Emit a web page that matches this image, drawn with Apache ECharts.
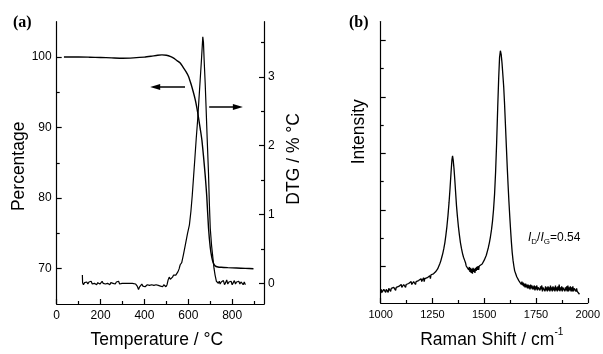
<!DOCTYPE html>
<html>
<head>
<meta charset="utf-8">
<script src="https://cdn.jsdelivr.net/npm/echarts@6/dist/echarts.min.js"></script>
<style>
html,body{margin:0;padding:0;background:#fff;}
#c{width:603px;height:354px;}
</style>
</head>
<body>
<div id="c"></div>
<script>
// ---------- Data ----------
// (a) TGA: temperature (°C), mass percentage
var tgaData = [[33,100.0],[60,100.0],[100,100.0],[150,99.97],[200,99.93],[250,99.88],[300,99.83],[350,99.88],[400,99.98],[430,100.1],[460,100.24],[480,100.3],[500,100.25],[520,100.05],[535,99.8],[550,99.45],[563,99.15],[575,98.6],[590,97.9],[601,97.25],[612,96.2],[623,95.0],[632,93.9],[639,92.8],[645,91.7],[651,90.5],[657,89.3],[662,88.2],[669,86.0],[677,83.2],[684,80.3],[692,75.8],[700,73.0],[707,71.6],[714,70.8],[722,70.4],[735,70.25],[750,70.2],[780,70.15],[820,70.1],[860,70.05],[897,70.0]];
// (a) DTG: temperature (°C), %/°C
var dtgData = [[117,0.12],[118,0.01],[122,-0.02],[127,0.01],[132,0.0],[137,0.02],[142,-0.01],[147,0.02],[152,0.0],[157,0.03],[162,-0.01],[167,0.01],[172,0.0],[177,0.02],[182,-0.02],[187,0.01],[192,0.02],[197,-0.01],[202,0.01],[207,0.03],[212,0.0],[217,0.02],[222,-0.01],[227,0.01],[232,0.0],[237,0.02],[242,-0.02],[247,0.01],[252,0.03],[257,0.0],[262,0.01],[267,-0.01],[272,0.02],[277,0.0],[282,0.03],[287,-0.01],[292,0.01],[298,0.0],[320,0.0],[345,0.0],[360,-0.01],[367,-0.04],[373,-0.09],[378,-0.05],[383,-0.03],[388,-0.01],[393,-0.04],[398,-0.02],[403,-0.05],[408,-0.03],[413,-0.02],[418,-0.04],[423,-0.03],[428,-0.05],[433,-0.02],[438,-0.04],[443,-0.03],[448,-0.05],[453,-0.02],[458,-0.04],[463,-0.03],[468,-0.02],[473,-0.04],[478,-0.03],[483,-0.05],[488,-0.02],[493,-0.03],[498,-0.05],[503,-0.02],[508,0.05],[513,0.09],[518,0.06],[523,0.04],[528,0.09],[533,0.12],[538,0.11],[543,0.12],[548,0.14],[553,0.17],[558,0.21],[563,0.27],[570,0.3],[578,0.42],[586,0.55],[596,0.72],[605,0.85],[612,1.05],[618,1.28],[624,1.55],[630,1.82],[636,2.1],[642,2.35],[648,2.65],[654,2.95],[660,3.25],[666,3.58],[669,3.5],[672,3.25],[677,2.9],[681,2.55],[686,2.1],[692,1.6],[696,1.15],[700,0.8],[706,0.55],[712,0.37],[717,0.22],[722,0.12],[728,0.03],[733,0.05],[737,0.0],[741,0.03],[745,-0.01],[750,0.02],[755,0.0],[760,0.04],[765,-0.02],[770,0.01],[775,0.05],[780,-0.01],[785,0.02],[790,0.0],[795,0.03],[800,-0.02],[805,0.01],[810,0.04],[815,-0.01],[820,0.02],[825,0.0],[830,0.03],[835,-0.01],[840,0.02],[845,0.01],[850,-0.02],[855,0.02],[860,-0.02]];
// (b) Raman: shift (cm-1), intensity (a.u.)
var ramanData = [[1000,10],[1003,14],[1006,11],[1009,13],[1012,10],[1015,14],[1018,12],[1021,15],[1024,11],[1027,14],[1030,12],[1033,15],[1036,11],[1039,15],[1042,13],[1045,16],[1048,12],[1051,15],[1054,13],[1057,17],[1060,13],[1063,16],[1066,14],[1069,17],[1072,13],[1075,16],[1078,15],[1081,18],[1084,14],[1087,17],[1090,15],[1093,18],[1096,15],[1099,19],[1102,16],[1105,18],[1108,15],[1111,19],[1114,17],[1117,20],[1120,16],[1123,19],[1126,17],[1129,21],[1132,17],[1135,20],[1138,18],[1141,21],[1144,18],[1147,22],[1150,19],[1153,21],[1156,18],[1159,22],[1162,20],[1165,23],[1168,19],[1171,22],[1174,20],[1177,24],[1180,20],[1183,23],[1186,21],[1189,24],[1192,21],[1195,25],[1198,22],[1201,24],[1204,22],[1207,26],[1210,22],[1213,25],[1216,23],[1219,27],[1222,23],[1225,26],[1228,24],[1231,27],[1234,25],[1237,28],[1240,25],[1243,29],[1246,27],[1250,28],[1255,30],[1260,29],[1265,32],[1270,33],[1275,35],[1280,37],[1285,40],[1290,43],[1295,47],[1300,51],[1305,56],[1310,62],[1315,70],[1320,79],[1325,90],[1330,103],[1335,118],[1340,135],[1344,147],[1347,151],[1350,147],[1354,138],[1358,126],[1362,113],[1366,100],[1370,90],[1375,79],[1380,70],[1385,62],[1390,56],[1395,51],[1400,47],[1405,44],[1410,41],[1413,38],[1416,40],[1419,36],[1422,38],[1425,34],[1428,37],[1431,32],[1434,36],[1437,31],[1440,35],[1443,30],[1446,36],[1449,32],[1452,35],[1455,31],[1458,36],[1461,33],[1464,37],[1467,34],[1470,38],[1473,34],[1476,38],[1479,36],[1482,40],[1485,38],[1490,40],[1495,42],[1500,44],[1505,46],[1510,49],[1515,53],[1520,57],[1525,62],[1530,68],[1535,75],[1540,84],[1545,96],[1550,112],[1555,135],[1560,165],[1565,200],[1570,232],[1574,252],[1578,259],[1582,255],[1586,246],[1590,234],[1594,222],[1598,205],[1602,185],[1607,160],[1611,140],[1615,122],[1619,105],[1623,90],[1627,76],[1631,63],[1635,52],[1639,44],[1643,38],[1647,33],[1652,30],[1657,27],[1662,25],[1667,23],[1670,25],[1673,21],[1676,23],[1679,19],[1682,22],[1685,18],[1688,21],[1691,17],[1694,20],[1697,16],[1700,20],[1703,16],[1706,19],[1709,15],[1712,19],[1715,15],[1718,18],[1721,14],[1724,19],[1727,15],[1730,18],[1733,14],[1736,17],[1739,14],[1742,18],[1745,13],[1748,17],[1751,14],[1754,18],[1757,13],[1760,16],[1763,14],[1766,18],[1769,13],[1772,17],[1775,14],[1778,18],[1781,12],[1784,16],[1787,14],[1790,17],[1793,12],[1796,17],[1799,13],[1802,16],[1805,12],[1808,17],[1811,13],[1814,16],[1817,12],[1820,18],[1823,13],[1826,16],[1829,12],[1832,17],[1835,13],[1838,16],[1841,12],[1844,18],[1847,13],[1850,16],[1853,12],[1856,17],[1859,13],[1862,19],[1865,12],[1868,16],[1871,13],[1874,17],[1877,12],[1880,16],[1883,14],[1886,18],[1889,12],[1892,16],[1895,13],[1898,17],[1901,12],[1904,18],[1907,12],[1910,16],[1913,13],[1916,17],[1919,12],[1922,16],[1925,12],[1928,17],[1931,12],[1934,15],[1937,13],[1940,16],[1943,12],[1946,15],[1949,12],[1952,14],[1955,11],[1958,12],[1960,9]];

// Tick values
var tempMajor = [0, 200, 400, 600, 800];
var tempMinor = [100, 300, 500, 700, 900];
var pctMajor = [70, 80, 90, 100];
var pctMinor = [75, 85, 95];
var dtgMajor = [0, 1, 2, 3];
var dtgMinor = [0.5, 1.5, 2.5, 3.5];
var shiftMajor = [1000, 1250, 1500, 1750, 2000];
var shiftMinor = [1125, 1375, 1625, 1875];
var intensityMajor = [37.6, 95.6, 153.6, 211.6, 269.6];
var intensityMinor = [66.6, 124.6, 182.6, 240.6];
// Annotation arrows (temperature, percentage)
var arrowLeft = [[585, 95.75], [449, 95.75]];
var arrowRight = [[695, 92.9], [826, 92.9]];

// ---------- Chart ----------
var FONT = 'Liberation Sans, Arial, Helvetica, sans-serif';
var BLACK = '#000';
var axisLine = { show: true, onZero: false, lineStyle: { color: BLACK, width: 1.2 } };
var noLine = { show: false, onZero: false };

function majorTick(vals) { return { show: true, inside: true, length: 5, customValues: vals, lineStyle: { color: BLACK, width: 1.2 } }; }
function minorTickAx(vals) { return { show: true, inside: true, length: 3, customValues: vals, lineStyle: { color: BLACK, width: 1.2 } }; }
function labels(vals, size, margin) {
  return { show: true, customValues: vals, color: BLACK, fontFamily: FONT, fontSize: size, margin: margin,
           formatter: function (v) { return String(v); } };
}
var nameStyle = { color: BLACK, fontFamily: FONT, fontSize: 17.5 };

var chart = echarts.init(document.getElementById('c'), null, { renderer: 'canvas' });
chart.setOption({
  animation: false,
  backgroundColor: '#fff',
  grid: [
    { left: 56.7, right: 339, top: 21.7, bottom: 43 },
    { left: 380.7, right: 14.7, top: 21.5, bottom: 43.7 }
  ],
  xAxis: [
    { type: 'value', gridIndex: 0, position: 'bottom', min: 0, max: 945,
      axisLine: axisLine, axisTick: majorTick(tempMajor), axisLabel: labels(tempMajor, 12, 6), splitLine: { show: false },
      name: 'Temperature / °C', nameLocation: 'middle', nameGap: 27,
      nameTextStyle: Object.assign({ padding: [0, 7, 0, 0] }, nameStyle) },
    { type: 'value', gridIndex: 0, position: 'bottom', min: 0, max: 945,
      axisLine: noLine, axisTick: minorTickAx(tempMinor), axisLabel: { show: false }, splitLine: { show: false } },
    { type: 'value', gridIndex: 1, position: 'bottom', min: 1000, max: 2000,
      axisLine: axisLine, axisTick: majorTick(shiftMajor), axisLabel: labels(shiftMajor, 11, 6), splitLine: { show: false },
      name: '{n|Raman Shift / cm}{s|-1}', nameLocation: 'middle', nameGap: 24,
      nameTextStyle: Object.assign({ padding: [0, 0, 0, 15],
        rich: { n: { fontFamily: FONT, fontSize: 17.5, color: BLACK, lineHeight: 22, verticalAlign: 'bottom' },
                s: { fontFamily: FONT, fontSize: 10, color: BLACK, lineHeight: 10, verticalAlign: 'top' } } }, nameStyle) },
    { type: 'value', gridIndex: 1, position: 'bottom', min: 1000, max: 2000,
      axisLine: noLine, axisTick: minorTickAx(shiftMinor), axisLabel: { show: false }, splitLine: { show: false } }
  ],
  yAxis: [
    { type: 'value', gridIndex: 0, position: 'left', min: 65, max: 105,
      axisLine: axisLine, axisTick: majorTick(pctMajor), axisLabel: labels(pctMajor, 12, 5), splitLine: { show: false },
      name: 'Percentage', nameLocation: 'middle', nameGap: 29,
      nameTextStyle: Object.assign({ padding: [0, 7, 0, 0] }, nameStyle) },
    { type: 'value', gridIndex: 0, position: 'left', min: 65, max: 105,
      axisLine: noLine, axisTick: minorTickAx(pctMinor), axisLabel: { show: false }, splitLine: { show: false } },
    { type: 'value', gridIndex: 0, position: 'right', min: -0.3, max: 3.8,
      axisLine: axisLine, axisTick: majorTick(dtgMajor), axisLabel: labels(dtgMajor, 12, 4), splitLine: { show: false },
      name: 'DTG / % °C', nameLocation: 'middle', nameGap: 21.5,
      nameTextStyle: Object.assign({ padding: [0, 0, 0, 8] }, nameStyle) },
    { type: 'value', gridIndex: 0, position: 'right', min: -0.3, max: 3.8,
      axisLine: noLine, axisTick: minorTickAx(dtgMinor), axisLabel: { show: false }, splitLine: { show: false } },
    { type: 'value', gridIndex: 1, position: 'left', min: 0, max: 289,
      axisLine: axisLine, axisTick: majorTick(intensityMajor), axisLabel: { show: false }, splitLine: { show: false },
      name: 'Intensity', nameLocation: 'middle', nameGap: 13,
      nameTextStyle: Object.assign({ padding: [0, 0, 0, 61] }, nameStyle) },
    { type: 'value', gridIndex: 1, position: 'left', min: 0, max: 289,
      axisLine: noLine, axisTick: minorTickAx(intensityMinor), axisLabel: { show: false }, splitLine: { show: false } }
  ],
  series: [
    { type: 'line', name: 'TGA', xAxisIndex: 0, yAxisIndex: 0, data: tgaData, showSymbol: false, smooth: 0.2,
      lineStyle: { color: BLACK, width: 1.4 }, silent: true,
      markLine: { silent: true, symbol: ['none', 'triangle'], symbolSize: [6, 10],
        label: { show: false }, lineStyle: { color: BLACK, width: 1.5, type: 'solid' },
        emphasis: { disabled: true },
        data: [
          [{ coord: arrowLeft[0] }, { coord: arrowLeft[1] }],
          [{ coord: arrowRight[0] }, { coord: arrowRight[1] }]
        ] } },
    { type: 'line', name: 'DTG', xAxisIndex: 0, yAxisIndex: 2, data: dtgData, showSymbol: false,
      lineStyle: { color: BLACK, width: 1.2 }, silent: true },
    { type: 'line', name: 'Raman', xAxisIndex: 2, yAxisIndex: 4, data: ramanData, showSymbol: false,
      lineStyle: { color: BLACK, width: 1.3 }, silent: true }
  ],
  graphic: [
    { type: 'text', left: 13, top: 15, style: { text: '(a)', font: 'bold 16px "Liberation Serif", "Times New Roman", serif', fill: BLACK } },
    { type: 'text', left: 349, top: 15, style: { text: '(b)', font: 'bold 16px "Liberation Serif", "Times New Roman", serif', fill: BLACK } },
    { type: 'text', left: 528, top: 232, style: {
        text: '{i|I}{s|D}{n|/}{i|I}{s|G}{n|=0.54}',
        rich: {
          i: { fontFamily: FONT, fontSize: 12, fontStyle: 'italic', fill: BLACK, lineHeight: 16, verticalAlign: 'middle' },
          n: { fontFamily: FONT, fontSize: 12, fill: BLACK, lineHeight: 16, verticalAlign: 'middle' },
          s: { fontFamily: FONT, fontSize: 8, fill: BLACK, lineHeight: 16, verticalAlign: 'bottom' }
        } } }
  ]
});
</script>
</body>
</html>
